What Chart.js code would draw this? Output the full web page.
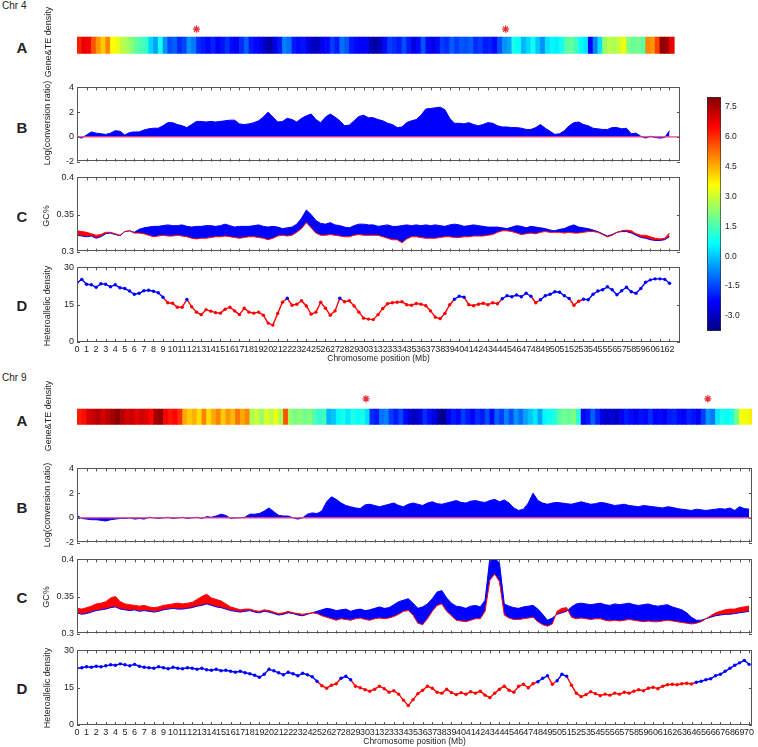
<!DOCTYPE html>
<html><head><meta charset="utf-8">
<script src="https://cdn.jsdelivr.net/npm/chart.js@4.4.1/dist/chart.umd.min.js"></script>
<style>
body{margin:0;background:#fff;width:758px;height:747px;position:relative;overflow:hidden;font-family:"Liberation Sans",Arial,sans-serif;color:#222;}
canvas{position:absolute;}
.t{position:absolute;white-space:nowrap;}
.let{position:absolute;font-weight:bold;font-size:15px;transform:translate(-50%,-50%);}
.yt{position:absolute;font-size:9px;white-space:nowrap;transform:translate(-50%,-50%) rotate(-90deg);}
</style></head><body>
<script>
// ---------------- DATA ----------------
const STEP = 0.5; // Mb between samples
const chr4Ticks = [0,1,2,3,4,5,6,7,8,9,10,11,12,13,14,15,16,17,18,19,20,21,22,23,24,25,26,27,28,29,30,31,32,33,34,35,36,37,38,39,40,41,42,43,44,45,46,47,48,49,50,51,52,53,54,55,56,57,58,59,60,61,62];
const chr9Ticks = [0,1,2,3,4,5,6,7,8,9,10,11,12,13,14,15,16,17,18,19,20,21,22,23,24,25,26,27,28,29,30,31,32,33,34,35,36,37,38,39,40,41,42,43,44,45,46,47,48,49,50,51,52,53,54,55,56,57,58,59,60,61,62,63,64,65,66,67,68,69,70];
const bTicks = [-2,0,2,4];
const cTicks = [0.3,0.35,0.4];
const dTicks = [0,15,30];
const cbTicks = [-3.0,-1.5,0.0,1.5,3.0,4.5,6.0,7.5];
const chr4Asterisks = [12.5, 44.85];
const chr9Asterisks = [30.1, 65.7];

const chr4Heat = [6.2,6.8,6.6,5.6,4.8,4.2,5.0,3.6,3.4,2.8,
2.6,2.2,1.8,1.5,1.3,0.2,-0.4,0.9,-0.6,-1.4,
-1.2,-1.8,-1.5,-0.6,-0.9,-1.8,-2.0,-2.2,-1.9,-2.3,
-2.1,-1.7,-2.2,-2.4,-1.8,-1.2,-2.0,-2.2,-2.5,-3.0,
-3.3,-2.6,-2.0,-0.8,-1.0,-2.0,-2.2,-2.1,-2.6,-3.0,
-3.0,-2.4,-2.2,-1.6,-2.0,-1.0,-1.3,-2.0,-2.2,-2.3,
-2.4,-3.0,-3.4,-3.0,-2.2,-1.6,-1.8,-2.0,-1.4,-2.0,
-2.6,-2.2,-1.3,-2.2,-2.6,-2.2,-1.6,-1.8,-1.2,-1.6,
-1.3,-1.4,-1.2,-1.8,-1.6,-2.0,-1.9,-2.2,-1.4,-0.6,
-0.4,0.9,0.7,-0.2,0.2,0.8,0.0,-0.6,0.3,0.6,
0.5,0.9,1.6,1.9,1.4,0.7,0.4,-2.3,-0.8,0.3,
2.4,2.8,2.6,3.0,3.4,2.2,1.8,2.0,1.7,5.0,
4.8,5.8,7.8,7.6,6.8];

const chr4LogRatio = [0,-0.1,0.15,0.4,0.3,0.25,0.2,0.3,0.5,0.45,
0.15,0.35,0.4,0.4,0.55,0.65,0.7,0.7,0.9,1.15,
1.15,1.0,0.9,0.75,1.0,1.25,1.25,1.2,1.25,1.2,
1.25,1.3,1.35,1.35,1.05,1.0,1.05,1.15,1.3,1.6,
2.0,1.6,1.2,1.25,1.5,1.4,1.2,1.5,1.7,1.85,
1.4,1.15,1.6,1.85,1.6,1.3,0.9,0.95,1.3,1.65,
1.75,1.55,1.55,1.4,1.3,1.1,1.0,0.75,0.8,1.15,
1.3,1.4,1.75,2.25,2.3,2.35,2.4,2.2,1.5,1.1,
1.1,1.05,1.15,1.0,0.9,1.0,1.15,1.1,0.9,0.8,
0.8,0.75,0.75,0.7,0.6,0.6,0.75,1.0,0.7,0.45,
0.2,0.25,0.5,0.9,1.15,1.2,1.0,0.9,0.7,0.65,
0.6,0.6,0.75,0.75,0.65,0.7,0.25,0.3,0.05,-0.1,
0.05,-0.05,-0.1,-0.05,0.5];

const chr4GcBlue = [0.322,0.321,0.320,0.321,0.318,0.320,0.324,0.325,0.323,0.3215,
0.327,0.328,0.326,0.330,0.332,0.333,0.334,0.334,0.335,0.336,
0.335,0.335,0.336,0.334,0.333,0.334,0.334,0.335,0.335,0.334,
0.335,0.337,0.335,0.333,0.334,0.334,0.334,0.335,0.336,0.334,
0.333,0.334,0.333,0.331,0.332,0.333,0.337,0.345,0.356,0.350,
0.342,0.338,0.337,0.339,0.336,0.335,0.333,0.332,0.335,0.337,
0.337,0.336,0.336,0.334,0.335,0.336,0.334,0.334,0.335,0.336,
0.335,0.336,0.335,0.336,0.335,0.336,0.335,0.334,0.336,0.337,
0.336,0.334,0.335,0.336,0.335,0.334,0.333,0.333,0.333,0.332,
0.331,0.333,0.335,0.334,0.332,0.334,0.333,0.332,0.331,0.329,
0.328,0.330,0.331,0.334,0.336,0.333,0.332,0.331,0.329,0.327,
0.324,0.321,0.323,0.326,0.327,0.327,0.325,0.322,0.319,0.318,
0.316,0.315,0.315,0.316,0.320];

const chr4GcRed = [0.328,0.327,0.326,0.324,0.322,0.323,0.326,0.326,0.324,0.322,
0.327,0.328,0.325,0.325,0.324,0.322,0.320,0.321,0.322,0.321,
0.321,0.322,0.321,0.320,0.318,0.317,0.318,0.318,0.319,0.320,
0.320,0.321,0.320,0.319,0.318,0.319,0.320,0.320,0.319,0.318,
0.316,0.318,0.321,0.322,0.321,0.322,0.326,0.331,0.339,0.332,
0.325,0.322,0.322,0.323,0.322,0.321,0.320,0.320,0.322,0.323,
0.322,0.322,0.322,0.322,0.320,0.318,0.316,0.316,0.312,0.317,
0.320,0.320,0.319,0.318,0.318,0.318,0.319,0.320,0.320,0.319,
0.319,0.320,0.320,0.321,0.321,0.321,0.322,0.323,0.326,0.328,
0.328,0.327,0.325,0.323,0.324,0.325,0.324,0.326,0.327,0.326,
0.326,0.326,0.325,0.326,0.325,0.325,0.326,0.327,0.327,0.326,
0.323,0.320,0.322,0.326,0.328,0.329,0.328,0.324,0.322,0.322,
0.320,0.318,0.317,0.318,0.325];

const chr4Hetero = [23.8,25.2,23.2,23.0,22.0,23.4,23.2,22.2,23.0,21.8,
21.5,20.5,19.2,19.6,20.6,20.8,20.4,19.8,18.0,15.8,
15.6,14.0,14.0,17.1,14.2,12.0,11.0,13.0,12.4,11.8,
11.6,13.2,14.0,12.5,11.0,13.6,12.0,11.6,12.0,10.8,
7.6,6.8,11.5,16.0,17.6,14.8,15.2,16.6,14.5,11.2,
12.0,16.0,13.6,10.8,12.5,17.6,16.2,16.6,14.5,12.0,
9.6,9.2,9.0,11.0,13.5,15.4,15.8,16.0,16.2,15.0,
14.8,15.5,15.2,14.6,12.5,10.0,9.4,11.5,15.0,17.2,
18.4,18.0,15.0,14.6,15.2,15.6,15.0,15.8,15.4,17.4,
18.6,18.2,18.9,18.2,19.6,18.4,15.8,17.0,18.6,19.2,
20.2,20.0,18.6,17.5,14.8,16.4,17.2,17.0,19.2,20.5,
21.0,22.2,21.0,19.0,20.6,22.0,20.2,19.6,21.5,24.0,
25.0,25.4,25.4,25.2,23.6];

const chr9Heat = [6.2,6.4,7.0,7.2,7.4,7.0,7.3,7.6,7.9,7.4,
7.0,7.2,6.8,7.1,6.9,6.5,7.6,7.8,6.6,6.3,
6.5,6.0,4.6,4.2,4.5,4.0,5.0,4.0,4.6,5.0,
4.2,4.8,4.4,5.2,4.6,5.0,2.6,3.0,2.4,3.2,
2.8,3.4,2.6,5.6,2.4,2.0,2.3,1.9,2.2,1.6,
1.2,1.4,-0.2,0.0,0.6,0.9,0.4,1.0,0.7,0.9,
0.3,-1.8,-2.0,-1.0,-0.8,-1.6,-2.0,-1.5,-2.2,-2.8,
-3.1,-2.6,-1.8,-2.2,-2.6,-3.4,-3.6,-2.4,-2.0,-2.2,
-1.6,-2.0,-2.3,-1.8,-2.0,-1.4,-2.2,-1.2,-1.6,-0.8,
-1.4,-0.6,-1.0,-0.4,0.0,0.4,-0.4,0.6,0.8,1.0,
1.6,2.0,1.8,2.1,1.2,-2.3,-2.0,-1.2,-1.9,-2.6,
-2.9,-2.7,-3.0,-2.4,-2.0,-2.2,-2.5,-2.1,-2.2,-1.8,
-2.3,-2.2,-2.4,-2.0,-1.9,-2.2,-2.3,-1.9,-2.1,-2.4,
-1.6,-0.6,-0.9,0.4,0.9,0.7,1.0,2.0,3.6,3.4,
3.8];

const chr9LogRatio = [0.2,-0.05,-0.1,-0.15,-0.15,-0.2,-0.25,-0.15,-0.1,-0.05,
-0.05,0.0,-0.1,-0.05,-0.1,0.05,0.0,-0.05,0.0,0.05,
-0.05,0.0,0.05,-0.05,0.0,0.05,-0.05,0.1,0.05,0.15,
0.3,0.2,-0.05,0.0,0.0,0.05,0.3,0.3,0.35,0.55,
0.8,0.5,0.2,0.15,0.15,0.0,-0.1,0.0,0.3,0.4,
0.35,0.55,1.3,1.7,1.5,1.2,1.0,0.9,0.8,0.75,
1.05,1.1,1.0,0.9,1.0,1.1,1.2,1.0,0.9,1.1,
1.2,1.1,1.0,1.2,1.3,1.15,1.1,1.2,1.3,1.4,
1.25,1.2,1.35,1.4,1.3,1.25,1.4,1.5,1.3,1.45,
1.2,0.8,0.6,0.7,1.2,2.0,1.4,1.2,1.1,1.2,
1.25,1.2,1.15,1.1,1.2,1.3,1.2,1.1,1.15,1.25,
1.2,1.1,1.0,1.05,1.1,1.0,0.95,0.9,1.0,0.95,
0.9,0.85,0.8,0.9,0.85,0.75,0.7,0.65,0.6,0.7,
0.65,0.6,0.65,0.7,0.75,0.7,0.8,0.6,0.9,0.75,
0.7];

const chr9GcBlue = [0.328,0.326,0.327,0.329,0.331,0.332,0.333,0.335,0.336,0.333,
0.332,0.331,0.332,0.330,0.331,0.330,0.329,0.330,0.332,0.333,
0.334,0.333,0.333,0.334,0.335,0.337,0.338,0.340,0.338,0.336,
0.335,0.333,0.331,0.330,0.329,0.330,0.331,0.329,0.328,0.330,
0.329,0.327,0.325,0.326,0.328,0.327,0.325,0.324,0.326,0.328,
0.330,0.332,0.334,0.333,0.331,0.332,0.333,0.330,0.332,0.333,
0.331,0.332,0.334,0.336,0.334,0.335,0.339,0.343,0.345,0.347,
0.341,0.334,0.336,0.340,0.347,0.356,0.358,0.348,0.341,0.337,
0.336,0.334,0.337,0.338,0.336,0.345,0.402,0.402,0.395,0.340,
0.337,0.335,0.334,0.336,0.337,0.338,0.333,0.326,0.318,0.321,
0.326,0.328,0.330,0.336,0.340,0.341,0.340,0.339,0.340,0.341,
0.339,0.338,0.340,0.339,0.340,0.341,0.339,0.338,0.339,0.340,
0.338,0.337,0.338,0.339,0.336,0.334,0.332,0.328,0.322,0.318,
0.318,0.320,0.322,0.324,0.325,0.326,0.326,0.327,0.328,0.329,
0.330];

const chr9GcRed = [0.334,0.333,0.335,0.337,0.340,0.341,0.343,0.348,0.350,0.343,
0.340,0.339,0.338,0.337,0.338,0.336,0.335,0.336,0.338,0.339,
0.340,0.341,0.340,0.341,0.342,0.346,0.350,0.353,0.348,0.346,
0.344,0.340,0.336,0.334,0.332,0.333,0.333,0.331,0.330,0.332,
0.331,0.329,0.327,0.328,0.330,0.328,0.327,0.326,0.327,0.328,
0.327,0.324,0.322,0.320,0.318,0.320,0.319,0.318,0.320,0.321,
0.319,0.318,0.320,0.321,0.320,0.321,0.323,0.326,0.330,0.331,
0.325,0.314,0.312,0.320,0.330,0.338,0.340,0.330,0.324,0.318,
0.317,0.316,0.318,0.320,0.320,0.330,0.372,0.380,0.370,0.325,
0.321,0.319,0.319,0.320,0.321,0.322,0.316,0.312,0.310,0.313,
0.330,0.334,0.335,0.322,0.320,0.321,0.320,0.319,0.320,0.320,
0.318,0.317,0.318,0.317,0.318,0.319,0.318,0.317,0.316,0.317,
0.316,0.316,0.317,0.318,0.317,0.316,0.315,0.314,0.313,0.314,
0.316,0.320,0.324,0.328,0.330,0.332,0.333,0.333,0.335,0.336,
0.337];

const chr9Hetero = [22.8,23.0,23.4,23.2,23.6,23.4,23.8,24.2,24.0,24.6,
24.2,23.8,24.4,23.6,23.2,23.0,22.8,23.4,23.0,22.6,
23.2,22.8,22.6,23.0,22.8,22.4,22.8,22.2,22.0,22.4,
21.8,22.0,21.6,21.2,21.6,21.0,20.6,20.0,19.2,20.4,
22.4,21.8,21.0,20.2,21.2,20.6,19.8,20.8,20.2,19.4,
17.6,15.8,14.8,16.0,16.6,18.8,19.6,18.2,15.6,15.0,
14.2,13.6,14.4,15.6,14.6,13.2,13.8,12.4,10.0,7.8,
10.2,12.6,14.0,15.6,14.8,13.2,12.8,14.4,13.0,12.2,
13.0,12.4,13.4,12.8,13.6,12.0,11.0,12.8,14.4,15.6,
14.0,13.2,15.6,16.4,15.0,16.6,17.4,18.8,19.8,16.4,
17.8,20.4,19.6,16.0,12.8,11.4,12.2,13.4,12.6,11.8,
12.4,12.0,12.8,12.4,13.2,12.8,13.6,14.2,13.8,14.8,
15.2,14.6,15.6,16.2,16.4,16.2,16.6,16.8,16.5,17.2,
17.6,18.2,18.6,19.8,20.4,21.6,22.8,24.0,25.0,26.0,
24.4];

const HET_SPLIT = 16.9;      // blue above, red below
const CB_MIN = -3.75, CB_MAX = 8.0;

// ---------------- STYLE / HELPERS ----------------
const BLUE = '#0000ff', RED = '#ff0000', ZERO = '#f0407a', FRAME = '#555';
Chart.defaults.font.family = '"Liberation Sans", Arial, sans-serif';
Chart.defaults.color = '#222';
Chart.defaults.animation = false;
Chart.defaults.events = [];
Chart.defaults.plugins.legend.display = false;
Chart.defaults.plugins.tooltip.enabled = false;

const clamp = v => Math.max(0, Math.min(1, v));
function jetRGB(t){ t = clamp(t); return [clamp(1.5-Math.abs(4*t-3)), clamp(1.5-Math.abs(4*t-2)), clamp(1.5-Math.abs(4*t-1))].map(c=>Math.round(c*255)); }
function jet(v){ const c = jetRGB((v-CB_MIN)/(CB_MAX-CB_MIN)); return `rgb(${c[0]},${c[1]},${c[2]})`; }
const pts = arr => arr.map((v,i)=>({x:i*STEP, y:v}));

const framePlugin = {
  id:'frame',
  afterDatasetsDraw(chart, args, o){
    if(!o || !o.on) return;
    const {ctx, chartArea:a, scales:{x,y}} = chart;
    ctx.save(); ctx.strokeStyle = FRAME; ctx.lineWidth = 1; ctx.beginPath();
    const L = 3;
    x.ticks.forEach(t=>{ const p = Math.round(x.getPixelForValue(t.value))+0.5;
      ctx.moveTo(p,a.top); ctx.lineTo(p,a.top+L); ctx.moveTo(p,a.bottom); ctx.lineTo(p,a.bottom-L); });
    y.ticks.forEach(t=>{ const p = Math.round(y.getPixelForValue(t.value))+0.5;
      ctx.moveTo(a.left,p); ctx.lineTo(a.left+L,p); ctx.moveTo(a.right,p); ctx.lineTo(a.right-L,p); });
    ctx.stroke();
    ctx.strokeRect(Math.round(a.left)+0.5, Math.round(a.top)+0.5, Math.round(a.width)-1, Math.round(a.height)-1);
    ctx.restore();
  }
};
Chart.register(framePlugin);

function place(area, m){
  const c = document.createElement('canvas');
  const w = area.r-area.l+m.l+m.r, h = area.b-area.t+m.t+m.b;
  c.width = w; c.height = h;
  Object.assign(c.style, {left:(area.l-m.l)+'px', top:(area.t-m.t)+'px', width:w+'px', height:h+'px'});
  document.body.appendChild(c);
  return c;
}
function baseOpts(m){ return {responsive:false, devicePixelRatio:1, layout:{padding:{top:m.t, right:m.r, left:0, bottom:0}}, plugins:{frame:{on:true}}}; }

function xScale(xmax, ticks, m, labels){
  return {type:'linear', min:0, max:xmax, offset:false,
    grid:{display:false, drawTicks:false}, border:{display:false},
    ticks:{display:labels, autoSkip:false, maxRotation:0, minRotation:0, includeBounds:false, padding:2, font:{size:9}, color:'#222', callback:v=>String(v)},
    afterBuildTicks: s => { s.ticks = ticks.map(v=>({value:v})); },
    afterFit: s => { s.height = m.b; },
    title: labels ? {display:true, text:'Chromosome position (Mb)', font:{size:8.5}, padding:{top:0,bottom:3}, color:'#222'} : {display:false}};
}
function yScale(min, max, ticks, m){
  return {type:'linear', min, max, grid:{display:false, drawTicks:false}, border:{display:false},
    ticks:{padding:3, font:{size:9}, color:'#222', callback:v=>String(v)},
    afterBuildTicks: s => { s.ticks = ticks.map(v=>({value:v})); },
    afterFit: s => { s.width = m.l; }};
}

function heatPanel(area, xmax, heat, ast, astY){
  const m = {l:30, r:8, t:4, b:2};
  const c = place(area, m);
  const o = baseOpts(m); o.plugins.frame = {on:false};
  o.scales = {
    x:{type:'linear', min:0, max:xmax, offset:false, grid:{display:false, drawTicks:false}, border:{display:false}, ticks:{display:false}, afterFit:s=>{s.height=m.b;}},
    y:{type:'linear', min:0, max:2, grid:{display:false, drawTicks:false}, border:{display:false}, ticks:{display:false}, afterFit:s=>{s.width=m.l;}}
  };
  return new Chart(c, {type:'bar', data:{datasets:[
    {type:'scatter', data: ast.map(x=>({x, y:astY})), pointStyle:'star', pointRadius:3.6, borderColor:'#e8303a', backgroundColor:'#e8303a', borderWidth:1.3},
    {type:'bar', data: heat.map((v,i)=>({x:i*STEP+STEP/2, y:[0,1]})), backgroundColor: heat.map(jet), borderWidth:0, barPercentage:1, categoryPercentage:1, grouped:false}
  ]}, options:o});
}

function ratioPanel(area, xmax, ticks, vals){
  const m = {l:30, r:8, t:8, b:8};
  const c = place(area, m);
  const o = baseOpts(m);
  o.scales = {x:xScale(xmax, ticks, m, false), y:yScale(-2, 4, bTicks, m)};
  return new Chart(c, {type:'line', data:{datasets:[
    {data:[{x:0,y:0},{x:xmax,y:0}], borderColor:ZERO, borderWidth:1.2, pointRadius:0, fill:false},
    {data:pts(vals), borderColor:BLUE, backgroundColor:BLUE, borderWidth:1, pointRadius:0, fill:'origin', tension:0}
  ]}, options:o});
}

function gcPanel(area, xmax, ticks, blue, red){
  const m = {l:30, r:8, t:8, b:8};
  const c = place(area, m);
  const o = baseOpts(m);
  o.scales = {x:xScale(xmax, ticks, m, false), y:yScale(0.3, 0.4, cTicks, m)};
  return new Chart(c, {type:'line', data:{datasets:[
    {data:pts(red), borderColor:RED, borderWidth:1, pointRadius:0, fill:false, tension:0},
    {data:pts(blue), borderColor:BLUE, borderWidth:1, pointRadius:0, tension:0, fill:{target:0, above:BLUE, below:RED}}
  ]}, options:o});
}

function hetPanel(area, xmax, ticks, vals){
  const m = {l:30, r:8, t:8, b:25};
  const c = place(area, m);
  const o = baseOpts(m);
  o.scales = {x:xScale(xmax, ticks, m, true), y:yScale(0, 30, dTicks, m)};
  const col = v => v >= HET_SPLIT ? BLUE : RED;
  return new Chart(c, {type:'line', data:{datasets:[
    {data:pts(vals), borderWidth:1.4, tension:0, fill:false,
     segment:{borderColor: s => col(Math.min(s.p0.parsed.y, s.p1.parsed.y))},
     pointRadius:1.7, pointBorderWidth:0,
     pointBackgroundColor: ctx => col(ctx.raw.y), borderColor: BLUE}
  ]}, options:o});
}

function colorbar(area){
  const m = {l:0, r:37, t:6, b:6};
  const c = place(area, m);
  const stops = [0, 0.125, 0.375, 0.625, 0.875, 1];
  return new Chart(c, {type:'bar', data:{labels:[''], datasets:[{
      data:[[CB_MIN, CB_MAX]], borderColor:'#333', borderWidth:1, borderSkipped:false, barPercentage:1, categoryPercentage:1,
      backgroundColor: ctx => {
        const ch = ctx.chart; const y = ch.scales.y;
        if(!ch.chartArea || !y) return '#00f';
        const g = ch.ctx.createLinearGradient(0, y.getPixelForValue(CB_MIN), 0, y.getPixelForValue(CB_MAX));
        stops.forEach(t => { const c = jetRGB(t); g.addColorStop(t, `rgb(${c[0]},${c[1]},${c[2]})`); });
        return g;
      }}]},
    options:{responsive:false, devicePixelRatio:1, layout:{padding:{top:m.t, bottom:m.b, left:0, right:0}},
      scales:{x:{display:false},
        y:{position:'right', min:CB_MIN, max:CB_MAX, grid:{display:false, drawTicks:false}, border:{display:false},
           ticks:{padding:4, font:{size:8.5}, color:'#222', callback:v=>v.toFixed(1)},
           afterBuildTicks: s => { s.ticks = cbTicks.map(v=>({value:v})); },
           afterFit: s => { s.width = m.r; }}}}});
}

// ---------------- BUILD ----------------
const X4 = 63.1, X9 = 70.3;
heatPanel({l:77, t:19, r:680, b:57}, X4, chr4Heat, chr4Asterisks, 1.47);
ratioPanel({l:77, t:87, r:680, b:162}, X4, chr4Ticks, chr4LogRatio);
gcPanel({l:77, t:177, r:680, b:252}, X4, chr4Ticks, chr4GcBlue, chr4GcRed);
hetPanel({l:77, t:267, r:680, b:342}, X4, chr4Ticks, chr4Hetero);
colorbar({l:707, t:94, r:721, b:334});

heatPanel({l:77, t:392, r:752, b:428}, X9, chr9Heat, chr9Asterisks, 1.65);
ratioPanel({l:77, t:468, r:752, b:543}, X9, chr9Ticks, chr9LogRatio);
gcPanel({l:77, t:559, r:752, b:634}, X9, chr9Ticks, chr9GcBlue, chr9GcRed);
hetPanel({l:77, t:650, r:752, b:725}, X9, chr9Ticks, chr9Hetero);

// ---------------- TEXT ----------------
function txt(cls, s, x, y, extra){ const d = document.createElement('div'); d.className = cls; d.textContent = s; d.style.left = x+'px'; d.style.top = y+'px'; if(extra) Object.assign(d.style, extra); document.body.appendChild(d); }
txt('t', 'Chr 4', 2, 0, {fontSize:'10px'});
txt('t', 'Chr 9', 2, 372, {fontSize:'10px'});
[['A',47],['B',127],['C',216],['D',305],['A',420],['B',507],['C',597],['D',688]].forEach(([s,y])=>txt('let', s, 22, y));
[['Gene&TE density',48,42],['Log(conversion ratio)',47,123],['GC%',46,216],['Heteroallelic density',47,306],
 ['Gene&TE density',48,416],['Log(conversion ratio)',47,505],['GC%',46,597],['Heteroallelic density',47,688]].forEach(([s,x,y])=>txt('yt', s, x, y));
</script>
</body></html>
